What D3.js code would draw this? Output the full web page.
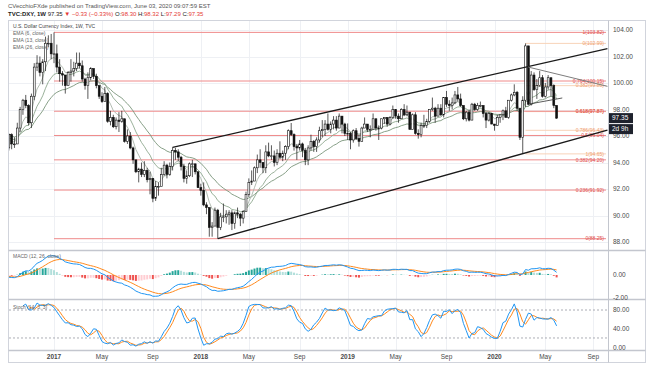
<!DOCTYPE html>
<html>
<head>
<meta charset="utf-8">
<script src="https://cdn.jsdelivr.net/npm/d3@7"></script>
<style>
  body { margin: 0; background: #fff; }
  text { font-family: "Liberation Sans", Arial, sans-serif; }
</style>
</head>
<body>
<div id="chart"></div>
<script>
// weekly bars, first bar = week of Mon 4 Jul 2016
const firstWeek = new Date(2016, 6, 4);

const closes = [
  // 2016
  96.3, 96.6, 97.5, 95.6, 96.2, 95.7, 94.5, 95.5, 95.8, 95.1, 96.1, 95.4, 95.4,
  96.6, 98.0, 98.7, 98.3, 97.0, 99.0, 101.2, 101.5, 100.8, 101.6, 103.0, 103.0, 102.2,
  // 2017
  102.2, 101.2, 100.7, 100.6, 99.8, 100.8, 100.9, 101.1, 101.5, 101.3, 100.3, 99.8, 100.4,
  101.1, 100.5, 99.8, 99.0, 98.6, 99.2, 97.1, 97.4, 96.7, 97.2, 97.1, 97.3, 95.6,
  96.0, 95.1, 94.2, 93.3, 93.5, 93.1, 93.4, 92.7, 92.8, 91.3, 92.2, 92.2, 93.1,
  93.8, 93.1, 93.7, 94.9, 94.8, 94.4, 93.7, 92.8, 93.0, 93.9, 93.9, 93.3, 92.1,
  // 2018
  91.9, 90.8, 90.6, 89.1, 89.2, 90.4, 89.1, 89.9, 89.9, 90.1, 90.2, 89.4, 90.2,
  90.1, 89.8, 90.3, 91.6, 92.5, 92.6, 93.6, 94.2, 94.0, 93.6, 94.8, 94.5, 94.5,
  94.0, 94.7, 94.4, 94.7, 95.2, 96.4, 96.1, 95.2, 95.1, 95.4, 94.9, 94.2, 95.1,
  95.6, 95.2, 95.7, 96.4, 96.5, 96.9, 96.5, 96.9, 97.2, 96.6, 97.5, 96.9, 96.2,
  // 2019
  96.2, 95.7, 96.4, 95.8, 95.6, 96.6, 96.9, 96.5, 96.5, 97.3, 96.6, 96.6, 97.3,
  97.4, 96.9, 97.4, 98.0, 97.5, 97.3, 98.0, 97.6, 97.8, 96.5, 97.6, 96.2, 96.1,
  96.8, 96.8, 97.1, 98.0, 98.1, 97.5, 98.1, 97.6, 98.9, 98.4, 98.3, 98.5, 99.1,
  98.8, 98.3, 97.3, 97.8, 97.2, 98.4, 98.0, 98.3, 98.3, 97.7, 97.2, 97.7, 96.9, 96.8,
  // 2020
  97.4, 97.6, 97.9, 97.4, 98.7, 99.1, 99.3, 98.1, 95.9, 98.7, 102.8, 98.4, 100.6,
  99.5, 99.8, 100.4, 99.0, 99.7, 100.4, 99.8, 98.3, 97.35
];

const highs = [
  96.7, 96.9, 97.6, 97.6, 96.3, 96.4, 95.9, 95.6, 96.6, 95.9, 96.2, 96.2, 95.9,
  97.0, 98.2, 98.8, 99.1, 98.4, 99.2, 101.5, 102.1, 102.0, 101.8, 103.5, 103.6, 103.7,
  103.82, 102.9, 101.8, 100.9, 100.6, 100.9, 101.8, 101.6, 102.3, 102.3, 101.7, 100.4, 100.8,
  101.2, 101.0, 100.7, 99.8, 99.3, 99.7, 99.3, 97.9, 97.6, 97.4, 97.8, 97.9, 97.3,
  96.5, 96.3, 95.2, 94.2, 93.6, 94.0, 94.1, 93.6, 93.3, 92.8, 92.6, 92.5, 93.6,
  94.1, 93.9, 94.0, 95.15, 95.1, 95.0, 94.5, 93.9, 93.4, 94.0, 94.2, 93.9, 93.3,
  92.4, 92.5, 91.0, 90.6, 89.5, 90.6, 90.5, 90.2, 90.9, 90.4, 90.4, 90.4, 90.3,
  90.6, 90.2, 90.4, 91.8, 92.8, 93.4, 93.7, 94.6, 95.0, 94.0, 95.3, 95.5, 95.3,
  94.9, 95.0, 95.6, 94.9, 95.3, 96.5, 96.98, 96.2, 95.4, 95.7, 95.5, 95.1, 95.3,
  96.1, 95.7, 95.9, 96.7, 97.2, 97.2, 97.7, 97.1, 97.5, 97.5, 97.7, 97.5, 97.0,
  96.95, 96.3, 96.5, 96.6, 96.1, 96.7, 97.4, 96.9, 96.8, 97.7, 97.3, 96.8, 97.3,
  97.4, 97.4, 97.5, 98.3, 98.0, 97.7, 98.1, 98.4, 98.3, 97.8, 97.7, 97.8, 96.5,
  97.0, 97.6, 97.3, 98.0, 98.9, 98.2, 98.4, 98.4, 98.9, 99.4, 98.7, 98.9, 99.4,
  99.7, 99.2, 98.3, 97.9, 98.0, 98.5, 98.5, 98.5, 98.6, 98.3, 97.8, 97.8, 97.7, 96.9,
  97.6, 97.6, 98.0, 98.2, 98.7, 99.2, 99.9, 99.4, 98.0, 99.0, 102.99, 102.8, 100.9,
  100.8, 100.3, 100.9, 100.6, 100.0, 100.6, 100.2, 99.9, 98.32
];

const lows = [
  95.6, 95.8, 96.5, 95.5, 95.2, 95.6, 93.9, 94.2, 95.5, 94.4, 94.9, 95.0, 95.1,
  95.4, 96.3, 97.6, 98.1, 96.8, 96.6, 98.7, 100.9, 100.5, 99.9, 100.9, 102.7, 101.8,
  101.5, 100.8, 100.1, 99.8, 99.2, 99.8, 100.1, 100.5, 100.9, 101.1, 100.1, 99.5, 98.8,
  100.2, 100.3, 99.6, 98.8, 98.5, 98.6, 97.0, 96.8, 96.6, 96.5, 96.3, 97.0, 95.5,
  95.4, 95.0, 93.9, 93.2, 92.5, 92.9, 92.9, 92.5, 91.6, 91.0, 91.1, 91.5, 92.5,
  93.0, 92.8, 93.0, 93.4, 94.2, 94.1, 93.4, 92.5, 92.4, 92.9, 92.9, 93.1, 92.1,
  91.5, 90.7, 90.1, 88.4, 88.4, 89.2, 88.25, 88.9, 89.5, 89.4, 89.3, 88.9, 89.0,
  89.8, 89.2, 89.4, 90.3, 91.4, 92.3, 92.6, 93.2, 93.6, 93.2, 93.2, 94.4, 94.2,
  93.7, 93.8, 94.3, 94.1, 94.2, 95.0, 96.0, 94.9, 94.2, 94.9, 94.4, 93.8, 93.8,
  94.9, 94.8, 94.8, 95.5, 95.9, 96.0, 96.4, 96.2, 96.5, 96.4, 96.6, 96.2, 96.0,
  95.7, 95.0, 95.5, 95.7, 95.2, 95.6, 96.6, 96.3, 95.9, 96.6, 96.4, 95.7, 96.5,
  96.9, 96.7, 96.8, 97.3, 97.3, 97.0, 97.3, 97.5, 97.5, 96.5, 96.5, 96.1, 95.8,
  95.9, 96.6, 96.6, 97.0, 97.9, 97.0, 97.5, 97.5, 97.4, 98.2, 97.9, 98.0, 98.4,
  98.6, 98.2, 97.2, 97.1, 97.1, 97.2, 97.9, 97.9, 98.2, 97.4, 96.6, 97.1, 96.9, 96.4,
  96.8, 97.0, 97.2, 97.4, 97.3, 98.6, 99.0, 97.9, 95.7, 94.65, 98.2, 98.3, 98.3,
  99.4, 98.8, 99.7, 98.9, 98.9, 99.5, 99.0, 98.1, 97.29
];

const priceTicks = [88, 90, 92, 94, 96, 98, 100, 102, 104];
const macdTicks = [0, -2];
const stochTicks = [80, 40, 0];
const stochBands = [80, 20];
const timeTicks = [
  ["2017-01-02", "2017"], ["2017-05-01", "May"], ["2017-09-04", "Sep"],
  ["2018-01-01", "2018"], ["2018-04-30", "May"], ["2018-09-03", "Sep"],
  ["2018-12-31", "2019"], ["2019-04-29", "May"], ["2019-09-02", "Sep"],
  ["2019-12-30", "2020"], ["2020-05-04", "May"], ["2020-08-31", "Sep"]
];

// fib retracement levels: [ratio, price]
const fibRed = [[1, 103.82], [0.764, 100.15], [0.618, 97.87], [0.5, 96.04],
                [0.382, 94.20], [0.236, 91.92], [0, 88.25]];
const fibRedStart = "2017-01-02";
const fibOrange = [[0, 102.99], [0.382, 99.80], [0.618, 97.84], [0.786, 96.43], [1, 94.65]];
const fibOrangeStart = "2020-03-16";

// drawn trend lines: [[date, price], [date, price]]
const channelUpper = [["2017-10-23", 95.15], ["2020-10-05", 102.6]];
const channelLower = [["2018-02-12", 88.25], ["2020-10-05", 96.45]];
const greyLine = [["2020-03-23", 101.2], ["2020-10-05", 99.75]];
const shortLine = [["2020-03-23", 98.4], ["2020-06-15", 98.87]];

// ---------- derived series ----------
const parse = d3.timeParse("%Y-%m-%d");
const n = closes.length;
const bars = d3.range(n).map(i => ({
  date: d3.timeDay.offset(firstWeek, 7 * i),
  open: i === 0 ? closes[0] : closes[i - 1],
  high: highs[i], low: lows[i], close: closes[i]
}));

function ema(arr, len) {
  const k = 2 / (len + 1), out = [];
  arr.forEach((v, i) => out.push(i === 0 ? v : v * k + out[i - 1] * (1 - k)));
  return out;
}
function sma(arr, len) {
  return arr.map((v, i) => {
    if (i < len - 1) return null;
    const s = arr.slice(i - len + 1, i + 1);
    if (s.some(d => d == null)) return null;
    return d3.mean(s);
  });
}

const ema6 = ema(closes, 6), ema13 = ema(closes, 13), ema26 = ema(closes, 26);
const ema12 = ema(closes, 12);
const macd = closes.map((c, i) => ema12[i] - ema26[i]);
const signal = ema(macd, 9);
const hist = macd.map((m, i) => m - signal[i]);

const rawK = closes.map((c, i) => {
  if (i < 13) return null;
  const hh = d3.max(highs.slice(i - 13, i + 1)), ll = d3.min(lows.slice(i - 13, i + 1));
  return 100 * (c - ll) / (hh - ll);
});
const stochK = sma(rawK, 3);
const stochD = sma(stochK, 3);

// ---------- layout ----------
const W = 651, H = 367;
const plotL = 9, plotR = 608;
const mainTop = 21, mainBot = 250, macdTop = 251, macdBot = 299, stTop = 300, stBot = 350;

const x = d3.scaleTime()
  .domain([new Date(2017, 0, 2), new Date(2019, 11, 30)])
  .range([54, 494.5]);
const y = d3.scaleLinear().domain([88, 104]).range([242, 30]);
const yM = d3.scaleLinear().domain([-2, 0]).range([298, 275]);
const yS = d3.scaleLinear().domain([0, 80]).range([347.3, 310]);

const svg = d3.select("#chart").append("svg")
  .attr("width", W).attr("height", H);

const defs = svg.append("defs");
[["clipMain", mainTop, mainBot], ["clipMacd", macdTop, macdBot], ["clipSt", stTop, stBot]]
  .forEach(([id, t, b]) => defs.append("clipPath").attr("id", id)
    .append("rect").attr("x", plotL).attr("y", t).attr("width", plotR - plotL).attr("height", b - t));

// header
svg.append("text").attr("x", 8).attr("y", 8).attr("font-size", 6).attr("fill", "#555")
  .text("CVecchioFXde published on TradingView.com, June 03, 2020 09:07:59 EST");
const h2 = svg.append("text").attr("x", 8).attr("y", 16).attr("font-size", 6).attr("fill", "#222");
h2.append("tspan").attr("font-weight", "bold").text("TVC:DXY, 1W ");
h2.append("tspan").text("97.35 ");
h2.append("tspan").attr("fill", "#e53935").text("▼ −0.33 (−0.33%) ");
[["O:", "98.30"], ["H:", "98.32"], ["L:", "97.29"], ["C:", "97.35"]].forEach(([k, v]) => {
  h2.append("tspan").text(k);
  h2.append("tspan").attr("fill", "#e53935").text(v + " ");
});

// frame
svg.append("rect").attr("x", 8.5).attr("y", 20.5).attr("width", 637).attr("height", 342)
  .attr("fill", "none").attr("stroke", "#d1d4dc");

// grid
const grid = svg.append("g").attr("stroke", "#eef0f4").attr("stroke-width", 1);
timeTicks.forEach(([d]) => {
  const xx = Math.round(x(parse(d))) + 0.5;
  grid.append("line").attr("x1", xx).attr("x2", xx).attr("y1", mainTop).attr("y2", stBot);
});
priceTicks.forEach(p => {
  grid.append("line").attr("x1", plotL).attr("x2", plotR)
    .attr("y1", Math.round(y(p)) + 0.5).attr("y2", Math.round(y(p)) + 0.5);
});

// pane separators and axis line
const sep = svg.append("g").attr("stroke", "#c3c6ce");
[mainBot, macdBot, stBot].forEach(v =>
  sep.append("line").attr("x1", 8.5).attr("x2", 645.5).attr("y1", v + 0.5).attr("y2", v + 0.5)
    .attr("stroke-width", 1.5));
sep.append("line").attr("x1", plotR + 0.5).attr("x2", plotR + 0.5).attr("y1", 20.5).attr("y2", 362.5);

// ---------- main pane ----------
const main = svg.append("g").attr("clip-path", "url(#clipMain)");

// fib lines
function fibs(levels, start, color, txtColor) {
  const g = main.append("g");
  levels.forEach(([r, p]) => {
    g.append("line").attr("x1", x(parse(start))).attr("x2", 606)
      .attr("y1", y(p)).attr("y2", y(p)).attr("stroke", color).attr("stroke-width", 1);
    g.append("text").attr("x", 604).attr("y", y(p)).attr("dy", "0.35em")
      .attr("text-anchor", "end").attr("font-size", 5).attr("fill", txtColor)
      .text(`${r}(${p.toFixed(2)})`);
  });
}
fibs(fibOrange, fibOrangeStart, "#f8d3b8", "#f0a070");
fibs(fibRed, fibRedStart, "#ef8a8a", "#e0504e");

// EMAs
const lineOf = (vals, ys) => d3.line()
  .defined((d, i) => vals[i] != null)
  .x((d, i) => x(bars[i].date)).y((d, i) => ys(vals[i]));
[[ema26, "#7a957a"], [ema13, "#8ea88e"], [ema6, "#a9b4a9"]].forEach(([vals, col]) =>
  main.append("path").datum(bars).attr("d", lineOf(vals, y))
    .attr("fill", "none").attr("stroke", col).attr("stroke-width", 0.9));

// candles
const cw = 1.9;
const cg = main.append("g").selectAll("g").data(bars).join("g");
cg.append("line")
  .attr("x1", d => x(d.date)).attr("x2", d => x(d.date))
  .attr("y1", d => y(d.high)).attr("y2", d => y(d.low))
  .attr("stroke", "#111").attr("stroke-width", 0.7);
cg.append("rect")
  .attr("x", d => x(d.date) - cw / 2).attr("width", cw)
  .attr("y", d => y(Math.max(d.open, d.close)))
  .attr("height", d => Math.max(0.8, Math.abs(y(d.open) - y(d.close))))
  .attr("fill", d => d.close >= d.open ? "#fff" : "#111")
  .attr("stroke", "#111").attr("stroke-width", 0.6);

// trend lines
function trend(pts, col, w) {
  main.append("line")
    .attr("x1", x(parse(pts[0][0]))).attr("y1", y(pts[0][1]))
    .attr("x2", x(parse(pts[1][0]))).attr("y2", y(pts[1][1]))
    .attr("stroke", col).attr("stroke-width", w);
}
trend(channelUpper, "#1a1a1a", 1.3);
trend(channelLower, "#1a1a1a", 1.3);
trend(greyLine, "#7d7d7d", 1);
trend(shortLine, "#333", 0.8);

// labels
const lab = svg.append("g").attr("font-size", 5).attr("fill", "#666");
lab.append("text").attr("x", 13).attr("y", 28).attr("fill", "#444").text("U.S. Dollar Currency Index, 1W, TVC");
["EMA (6, close)", "EMA (13, close)", "EMA (26, close)"].forEach((t, i) =>
  lab.append("text").attr("x", 13).attr("y", 35 + i * 7).text(t));

// price axis
const pa = svg.append("g").attr("font-size", 6.5).attr("fill", "#4a4a4a");
priceTicks.forEach(p =>
  pa.append("text").attr("x", 613).attr("y", y(p)).attr("dy", "0.35em").text(p.toFixed(2)));

// last price boxes
const lp = svg.append("g");
lp.append("rect").attr("x", 609).attr("y", y(closes[n - 1]) - 5).attr("width", 24).attr("height", 10)
  .attr("fill", "#1e222d");
lp.append("text").attr("x", 612).attr("y", y(closes[n - 1])).attr("dy", "0.35em")
  .attr("font-size", 6.5).attr("fill", "#fff").text(closes[n - 1].toFixed(2));
lp.append("rect").attr("x", 609).attr("y", y(closes[n - 1]) + 6).attr("width", 24).attr("height", 10)
  .attr("fill", "#1e222d");
lp.append("text").attr("x", 612).attr("y", y(closes[n - 1]) + 11).attr("dy", "0.35em")
  .attr("font-size", 6.5).attr("fill", "#fff").text("2d 9h");

// ---------- MACD pane ----------
const mp = svg.append("g").attr("clip-path", "url(#clipMacd)");
mp.append("g").selectAll("rect").data(bars).join("rect")
  .attr("x", d => x(d.date) - 1).attr("width", 2)
  .attr("y", (d, i) => Math.min(yM(0), yM(hist[i])))
  .attr("height", (d, i) => Math.abs(yM(hist[i]) - yM(0)))
  .attr("fill", (d, i) => {
    const h = hist[i], prev = i > 0 ? hist[i - 1] : h;
    if (h >= 0) return h >= prev ? "#26a69a" : "#b2dfdb";
    return h < prev ? "#ef5350" : "#ffcdd2";
  });
mp.append("path").datum(bars).attr("d", lineOf(signal, yM))
  .attr("fill", "none").attr("stroke", "#ff8a1e").attr("stroke-width", 1);
mp.append("path").datum(bars).attr("d", lineOf(macd, yM))
  .attr("fill", "none").attr("stroke", "#2196f3").attr("stroke-width", 1);
svg.append("text").attr("x", 13).attr("y", 258).attr("font-size", 5).attr("fill", "#666")
  .text("MACD (12, 26, close)");
macdTicks.forEach(v =>
  pa.append("text").attr("x", 613).attr("y", yM(v)).attr("dy", "0.35em").text(v.toFixed(2)));

// ---------- Stoch pane ----------
const sp = svg.append("g").attr("clip-path", "url(#clipSt)");
stochBands.forEach(v =>
  sp.append("line").attr("x1", plotL).attr("x2", plotR).attr("y1", yS(v)).attr("y2", yS(v))
    .attr("stroke", "#9598a1").attr("stroke-dasharray", "2,2").attr("stroke-width", 0.8));
sp.append("path").datum(bars).attr("d", lineOf(stochD, yS))
  .attr("fill", "none").attr("stroke", "#ff8a1e").attr("stroke-width", 1);
sp.append("path").datum(bars).attr("d", lineOf(stochK, yS))
  .attr("fill", "none").attr("stroke", "#2196f3").attr("stroke-width", 1);
svg.append("text").attr("x", 13).attr("y", 309).attr("font-size", 5).attr("fill", "#666")
  .text("Stoch (14, 3, 3)");
stochTicks.forEach(v =>
  pa.append("text").attr("x", 613).attr("y", yS(v)).attr("dy", "0.35em").text(v.toFixed(2)));

// ---------- time axis ----------
const ta = svg.append("g").attr("font-size", 6.5).attr("fill", "#4a4a4a").attr("text-anchor", "middle");
timeTicks.forEach(([d, t]) =>
  ta.append("text").attr("x", x(parse(d))).attr("y", 359)
    .attr("font-weight", /^\d+$/.test(t) ? "bold" : "normal").text(t));
</script>
</body>
</html>
